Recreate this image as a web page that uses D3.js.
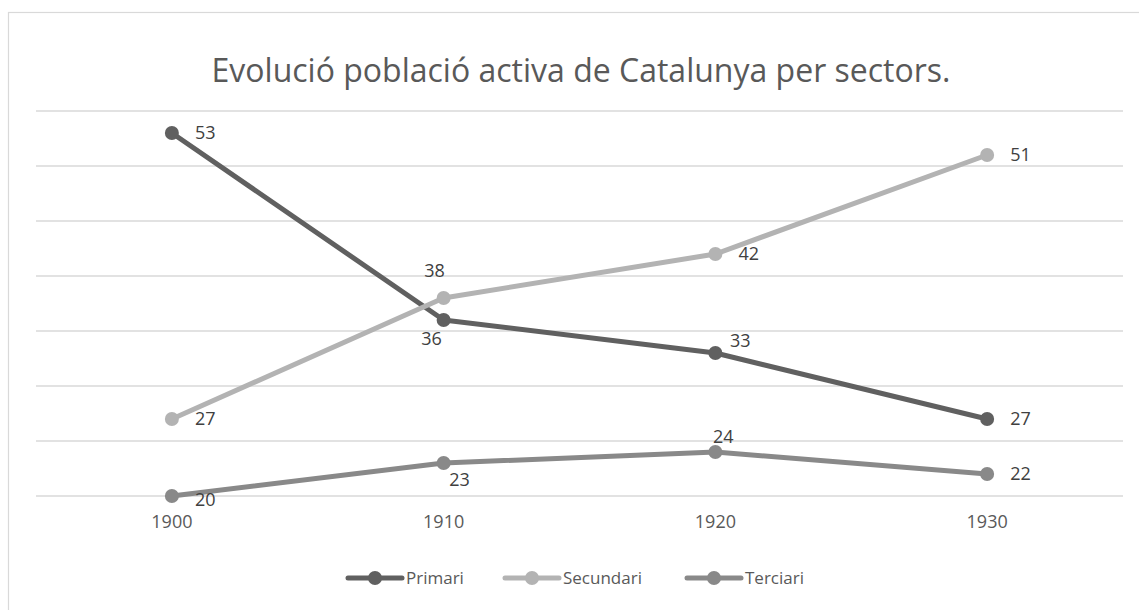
<!DOCTYPE html>
<html>
<head>
<meta charset="utf-8">
<script src="https://cdn.jsdelivr.net/npm/d3@7"></script>
<style>
  body { margin: 0; background: #fff; }
  text { font-family: "Open Sans", "Noto Sans", sans-serif; }
</style>
</head>
<body>
<div id="chart"></div>
<script>
var years = ["1900", "1910", "1920", "1930"];
var primari = [53, 36, 33, 27];
var secundari = [27, 38, 42, 51];
var terciari = [20, 23, 24, 22];
var seriesNames = ["Primari", "Secundari", "Terciari"];
var yTicks = [20, 25, 30, 35, 40, 45, 50, 55];

// where each data label sits relative to its point
var labelPlace = {
    Primari: ["right", "belowLeft", "aboveRight", "right"],
    Secundari: ["right", "aboveLeft", "right", "right"],
    Terciari: ["rightLow", "belowRight", "above", "right"]
};
var colors = { Primari: "#606060", Secundari: "#b3b3b3", Terciari: "#898989" };

var W = 1139, H = 610;
var margin = { top: 111, right: 16, bottom: 114, left: 36 };
var width = W - margin.left - margin.right;
var height = H - margin.top - margin.bottom;

var svg = d3.select("#chart").append("svg")
    .attr("width", W).attr("height", H);

// chart border
svg.append("rect")
    .attr("x", 8.5).attr("y", 12.5)
    .attr("width", W + 20).attr("height", H + 20)
    .attr("fill", "none").attr("stroke", "#d9d9d9").attr("stroke-width", 1.2);

svg.append("text")
    .attr("x", 581).attr("y", 82)
    .attr("text-anchor", "middle")
    .attr("font-size", 32)
    .attr("fill", "#595959")
    .text("Evolució població activa de Catalunya per sectors.");

var g = svg.append("g").attr("transform", "translate(" + margin.left + "," + margin.top + ")");

var x = d3.scaleBand().domain(years).range([0, width]);
var y = d3.scaleLinear().domain([20, 55]).range([height, 0]);
var cx = function (d) { return x(d) + x.bandwidth() / 2; };

g.selectAll(".grid").data(yTicks).enter().append("line")
    .attr("x1", 0).attr("x2", width)
    .attr("y1", function (d) { return y(d); })
    .attr("y2", function (d) { return y(d); })
    .attr("stroke", "#d9d9d9").attr("stroke-width", 1.3);

var xAxis = g.append("g")
    .attr("transform", "translate(0," + height + ")")
    .call(d3.axisBottom(x).tickSize(0).tickPadding(19));
xAxis.select(".domain").remove();
xAxis.attr("font-size", 18);
xAxis.selectAll("text").attr("fill", "#595959")
    .style("font-family", "'Open Sans', 'Noto Sans', sans-serif");

var data = { Primari: primari, Secundari: secundari, Terciari: terciari };

var line = d3.line()
    .x(function (d, i) { return cx(years[i]); })
    .y(function (d) { return y(d); });

var offsets = {
    right: [23, 6, "start"],
    rightLow: [23, 10, "start"],
    belowLeft: [-12, 25, "middle"],
    belowRight: [16, 23, "middle"],
    aboveRight: [25, -6, "middle"],
    aboveLeft: [-9, -21, "middle"],
    above: [8, -9, "middle"]
};

seriesNames.forEach(function (name) {
    var vals = data[name];
    g.append("path").datum(vals)
        .attr("d", line)
        .attr("fill", "none")
        .attr("stroke", colors[name])
        .attr("stroke-width", 5)
        .attr("stroke-linejoin", "round");
    g.selectAll(".pt-" + name).data(vals).enter().append("circle")
        .attr("cx", function (d, i) { return cx(years[i]); })
        .attr("cy", function (d) { return y(d); })
        .attr("r", 7)
        .attr("fill", colors[name]);
});

seriesNames.forEach(function (name) {
    var vals = data[name];
    g.selectAll(".lb-" + name).data(vals).enter().append("text")
        .attr("x", function (d, i) { return cx(years[i]) + offsets[labelPlace[name][i]][0]; })
        .attr("y", function (d, i) { return y(d) + offsets[labelPlace[name][i]][1]; })
        .attr("text-anchor", function (d, i) { return offsets[labelPlace[name][i]][2]; })
        .attr("font-size", 18)
        .attr("fill", "#404040")
        .text(function (d) { return d; });
});

// legend
var legendX = [348, 505, 687];
var legend = svg.append("g");
seriesNames.forEach(function (name, i) {
    var lg = legend.append("g").attr("transform", "translate(" + legendX[i] + ",578)");
    lg.append("line").attr("x1", 0).attr("x2", 54).attr("y1", 0).attr("y2", 0)
        .attr("stroke", colors[name]).attr("stroke-width", 5).attr("stroke-linecap", "round");
    lg.append("circle").attr("cx", 27).attr("cy", 0).attr("r", 7).attr("fill", colors[name]);
    lg.append("text").attr("x", 58).attr("y", 6)
        .attr("font-size", 17).attr("fill", "#595959").text(name);
});
</script>
</body>
</html>
